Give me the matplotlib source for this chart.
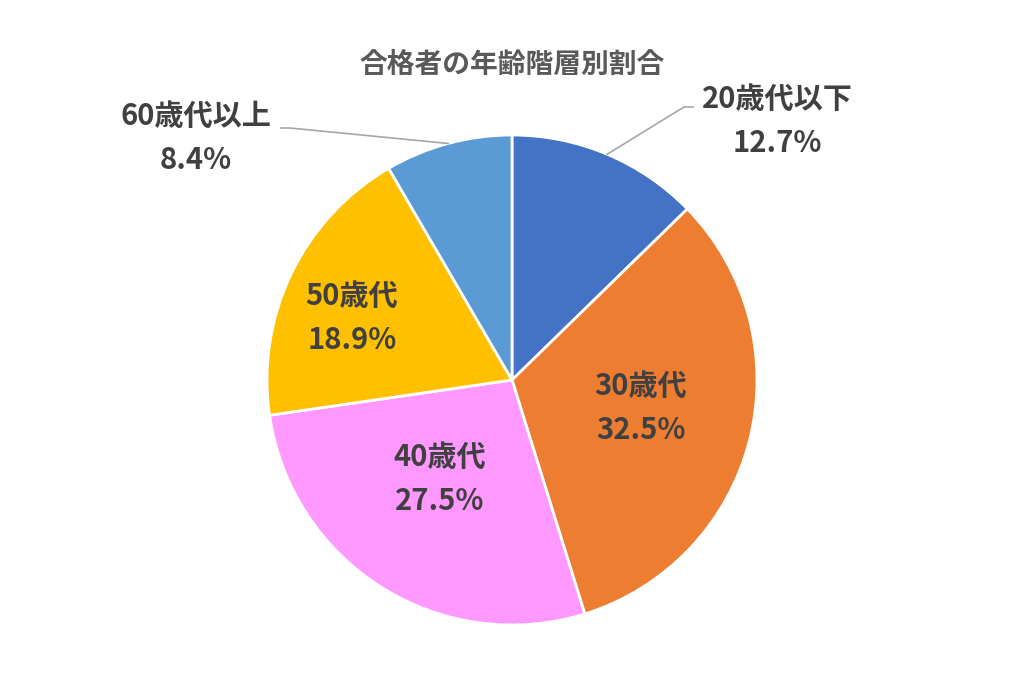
import numpy as np
import matplotlib
matplotlib.use("Agg")
import matplotlib.pyplot as plt

plt.rcParams['font.family'] = ['Noto Sans CJK JP', 'DejaVu Sans']

# data
title = "合格者の年齢階層別割合"
categories = ["20歳代以下", "30歳代", "40歳代", "50歳代", "60歳代以上"]
shares = [12.7, 32.5, 27.5, 18.9, 8.4]
colors = ["#4472C4", "#ED7D31", "#FF99FF", "#FFC000", "#5B9BD5"]

# label layout (pixel coords, y from top) and which ones get a leader line
label_pos = [(777, 121), (641, 408), (440, 479), (352, 318), (196, 138)]
leader_end = [(684, 107), None, None, None, (290, 128)]
leader_dir = [1, 0, 0, 0, -1]

W, H = 1024, 690
cx, cy, R = 512, 380, 245

fig = plt.figure(figsize=(W / 100, H / 100), dpi=100)
ax = fig.add_axes([0, 0, 1, 1])

wedges, _ = ax.pie(shares, colors=colors, startangle=90, counterclock=False,
                   center=(cx, H - cy), radius=R, frame=True,
                   wedgeprops=dict(edgecolor='white', linewidth=2))
ax.set_xlim(0, W)
ax.set_ylim(0, H)
ax.set_aspect('equal')
ax.axis('off')

txt_color = "#404040"
for i, w in enumerate(wedges):
    lx, ly = label_pos[i]
    ax.text(lx, H - ly, categories[i] + "\n" + f"{shares[i]:.1f}%",
            ha='center', va='center', fontsize=21, fontweight='bold',
            color=txt_color, linespacing=1.6)
    if leader_end[i] is not None:
        ang = np.deg2rad((w.theta1 + w.theta2) / 2)
        sx = cx + R * np.cos(ang)
        sy = (H - cy) + R * np.sin(ang)
        ex, ey = leader_end[i]
        ax.plot([sx, ex, ex + 9 * leader_dir[i]], [sy, H - ey, H - ey],
                color='#A6A6A6', linewidth=1.2)

ax.text(512, H - 65, title, ha='center', va='center', fontsize=20,
        fontweight='bold', color='#595959')

fig.savefig("out.png", dpi=100)
